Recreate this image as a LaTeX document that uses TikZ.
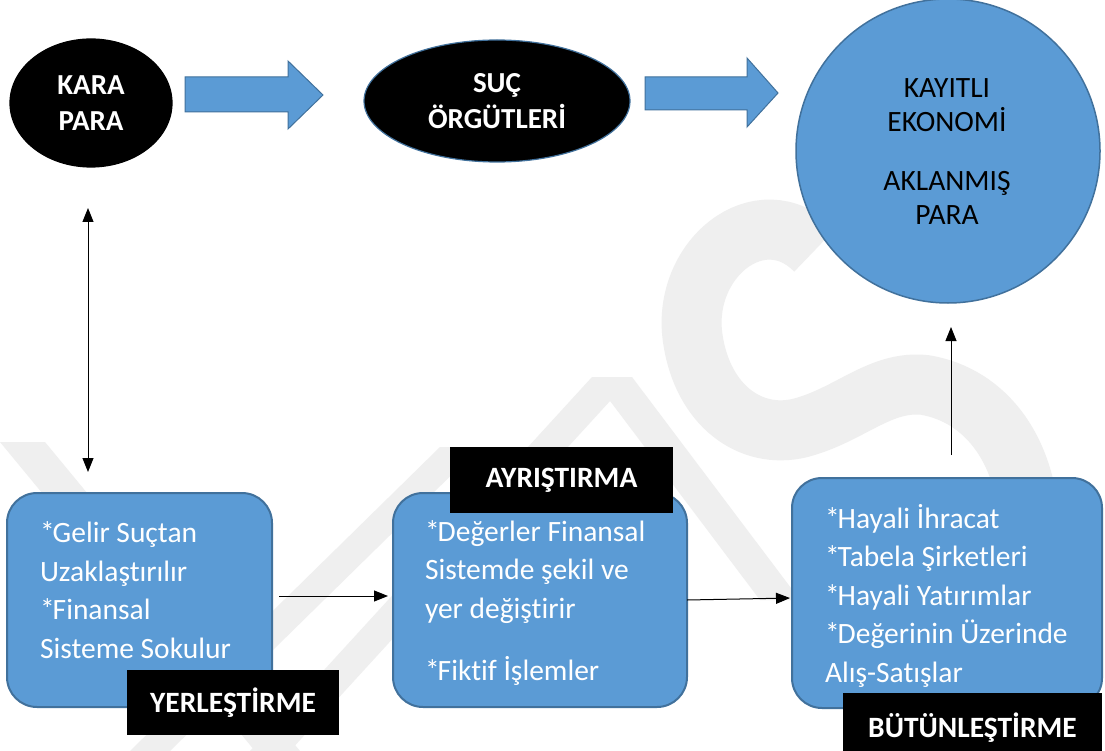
\documentclass[tikz,border=0pt]{standalone}
\usepackage{fontspec}
\setmainfont{Carlito}[Ligatures=NoCommon]
\usetikzlibrary{arrows.meta,shapes.geometric}
\definecolor{obl}{HTML}{5B9BD5}
\definecolor{obd}{HTML}{41719C}
\definecolor{wm}{HTML}{EFEFEF}
\newcommand{\bul}{*\kern-2pt}
\begin{document}
\begin{tikzpicture}[x=1pt,y=-1pt,
  every node/.style={inner sep=0pt, outer sep=0pt},
  blk/.style={ellipse, fill=black, line width=1.2pt, text=white,
    font=\bfseries\fontsize{29pt}{36pt}\selectfont, align=center},
  bbox/.style={rectangle, rounded corners=30pt, fill=obl, draw=obd, line width=2pt},
  btxt/.style={anchor=base west, align=left, text=white,
    font=\fontsize{29.5pt}{38.5pt}\selectfont},
  lbl/.style={fill=black, text=white, font=\bfseries\fontsize{29.5pt}{34pt}\selectfont},
  con/.style={line width=1pt, -{Triangle[length=14pt,width=11pt]}},
  dcon/.style={line width=1pt, {Triangle[length=14pt,width=11pt]}-{Triangle[length=14pt,width=11pt]}},
  barrow/.style={fill=obl, draw=obd, line width=1pt},
  wmline/.style={draw=wm, line width=60pt},
]
\useasboundingbox (0,0) rectangle (1105,751);
\fill[white] (0,0) rectangle (1105,751);

% watermark (faint)
\draw[wmline] (815,250) .. controls (760,195) and (680,260) .. (693,340)
  .. controls (703,405) and (750,440) .. (800,428)
  .. controls (850,415) and (880,380) .. (925,385)
  .. controls (985,395) and (1030,450) .. (1030,540);
\fill[wm] (592,377) -- (632,377) -- (800,600) -- (760,600) -- cycle;
\fill[wm] (592,377) -- (632,377) -- (290,751) -- (250,751) -- cycle;
\fill[wm] (0,442) -- (45,442) -- (300,751) -- (255,751) -- cycle;
\fill[wm] (440,447) -- (480,447) -- (170,751) -- (130,751) -- cycle;

% top row
\node[blk, draw=black, minimum width=162pt, minimum height=128pt] (kara) at (91,103) {KARA\\PARA};
\node[blk, draw=obd, minimum width=266pt, minimum height=122pt] (suc) at (497,101) {SUÇ\\ÖRGÜTLERİ};
\node[circle, fill=obl, draw=obd, line width=1.5pt, minimum size=304pt] (kay) at (948,151) {};
\node[anchor=base, align=center, text=black, font=\fontsize{29.5pt}{34pt}\selectfont]
  (kayt) at (947,225) {KAYITLI\\EKONOMİ\\[25pt]AKLANMIŞ\\PARA};

% block arrows
\draw[barrow] (185,77) -- (288,77) -- (288,61) -- (323,95) -- (288,129) -- (288,112) -- (185,112) -- cycle;
\draw[barrow] (645,77) -- (747,77) -- (747,58) -- (778,93) -- (747,127) -- (747,110) -- (645,110) -- cycle;

% boxes
\node[bbox, minimum width=265pt, minimum height=214pt] (b1) at (139.5,600) {};
\node[bbox, minimum width=294pt, minimum height=214pt] (b2) at (540,600) {};
\node[bbox, minimum width=310pt, minimum height=230pt] (b3) at (947,593) {};

\node[btxt] (t1) at (40,658) {\bul Gelir Suçtan\\Uzaklaştırılır\\\bul Finansal\\Sisteme Sokulur};
\node[btxt] (t2) at (425,680) {\bul Değerler Finansal\\Sistemde şekil ve\\yer değiştirir\\[23.5pt]\bul Fiktif İşlemler};
\node[btxt] (t3) at (825,682) {\bul Hayali İhracat\\\bul Tabela Şirketleri\\\bul Hayali Yatırımlar\\\bul Değerinin Üzerinde\\Alış-Satışlar};

% labels
\node[lbl, minimum width=212pt, minimum height=65pt] (l1) at (233,702.5) {YERLEŞTİRME};
\node[lbl, minimum width=223pt, minimum height=66pt] (l2) at (561.5,480) {AYRIŞTIRMA};
\node[lbl, minimum width=259pt, minimum height=69pt] (l3) at (972.5,727.5) {BÜTÜNLEŞTİRME};

% connectors
\coordinate (d1) at (88,208);
\coordinate (d2) at (88,472);
\draw[dcon] (d1) -- (d2);
\draw[con, shorten <=7pt, shorten >=5pt] ([yshift=4pt]b1.east) -- ([yshift=4pt]b2.west);
\draw[con, shorten >=2pt] (b2.east) -- ([yshift=-5pt]b3.west);
\draw[con, shorten <=23pt, shorten >=24pt] ([xshift=4pt]b3.north) -- ([xshift=3pt]kay.south);
\end{tikzpicture}
\end{document}
